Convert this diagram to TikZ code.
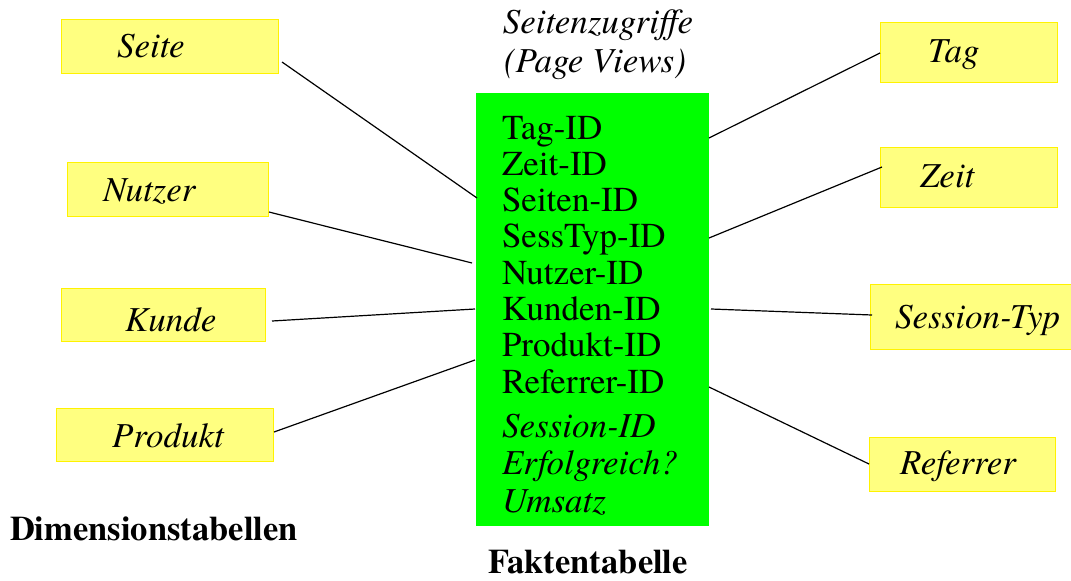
\documentclass[tikz,border=0pt]{standalone}
\usepackage{fontspec}
\setmainfont{TeX Gyre Termes}
\newfontfamily\timesfam{TeX Gyre Termes}
\begin{document}
\begin{tikzpicture}[x=1pt,y=-1pt,
  every node/.style={inner sep=0pt,outer sep=0pt},
  dimbox/.style={draw=yellow,line width=0.9pt,fill=dimyellow,anchor=north west},
  factbox/.style={fill=factgreen,anchor=north west},
  dimlabel/.style={font=\timesfam\fontsize{35}{38}\selectfont\itshape,anchor=base west},
  keytext/.style={font=\timesfam\fontsize{35}{38}\selectfont,anchor=base west},
  measuretext/.style={font=\timesfam\fontsize{35}{38}\selectfont\itshape,anchor=base west},
  titletext/.style={font=\timesfam\fontsize{35}{38}\selectfont\itshape,anchor=base},
  caption/.style={font=\timesfam\fontsize{34.5}{38}\selectfont\bfseries,anchor=base west},
  link/.style={line width=1.2pt,black}]
\definecolor{dimyellow}{RGB}{255,255,128}
\definecolor{factgreen}{RGB}{0,255,0}
\useasboundingbox (0,0) rectangle (1071,581);

% fact table
\node[factbox,minimum width=233pt,minimum height=433pt] (fact) at (476,93) {};
\node[titletext] (title1) at (598,33) {Seitenzugriffe};
\node[titletext] (title2) at (595,72) {(Page Views)};
\foreach \t [count=\i] in {Tag-ID,Zeit-ID,Seiten-ID,SessTyp-ID,Nutzer-ID,Kunden-ID,Produkt-ID,Referrer-ID}
  \node[keytext] (key\i) at (502,{139+36.3*(\i-1)}) {\t};
\node[measuretext] (m1) at (502,437) {Session-ID};
\node[measuretext] (m2) at (502,474.5) {Erfolgreich?};
\node[measuretext] (m3) at (502,512) {Umsatz};

% dimension tables, left
\node[dimbox,minimum width=217pt,minimum height=54pt] (seite) at (61,19) {};
\node[dimlabel] (seiteT) at (117,57) {Seite};
\node[dimbox,minimum width=201pt,minimum height=54pt] (nutzer) at (67,162) {};
\node[dimlabel] (nutzerT) at (103,201) {Nutzer};
\node[dimbox,minimum width=204pt,minimum height=53pt] (kunde) at (61,288) {};
\node[dimlabel] (kundeT) at (125,331) {Kunde};
\node[dimbox,minimum width=217pt,minimum height=53pt] (produkt) at (56,408) {};
\node[dimlabel] (produktT) at (112,447) {Produkt};

% dimension tables, right
\node[dimbox,minimum width=177pt,minimum height=60pt] (tag) at (880,22) {};
\node[dimlabel] (tagT) at (928,62) {Tag};
\node[dimbox,minimum width=177pt,minimum height=60pt] (zeit) at (880,147) {};
\node[dimlabel] (zeitT) at (920,187) {Zeit};
\node[dimbox,minimum width=201pt,minimum height=65pt] (sesstyp) at (870,284) {};
\node[dimlabel] (sesstypT) at (895,328) {Session-Typ};
\node[dimbox,minimum width=186pt,minimum height=54pt] (referrer) at (869,437) {};
\node[dimlabel] (referrerT) at (900,474) {Referrer};

% captions
\node[caption] (dimcap) at (10,540) {Dimensionstabellen};
\node[caption] (factcap) at (488,573) {Faktentabelle};

% connector end points
\coordinate (cSeite) at (282,62);   \coordinate (fSeite) at (477,198);
\coordinate (cNutzer) at (269,212); \coordinate (fNutzer) at (472,263);
\coordinate (cKunde) at (272,321);  \coordinate (fKunde) at (475,309);
\coordinate (cProdukt) at (274,432);\coordinate (fProdukt) at (475,360);
\coordinate (cTag) at (880,53);     \coordinate (fTag) at (709,138);
\coordinate (cZeit) at (882,167);   \coordinate (fZeit) at (709,238);
\coordinate (cSess) at (872,315);   \coordinate (fSess) at (711,309);
\coordinate (cRef) at (869,464);    \coordinate (fRef) at (709,387);

\draw[link] (cSeite) -- (fSeite);
\draw[link] (cNutzer) -- (fNutzer);
\draw[link] (cKunde) -- (fKunde);
\draw[link] (cProdukt) -- (fProdukt);
\draw[link] (fTag) -- (cTag);
\draw[link] (fZeit) -- (cZeit);
\draw[link] (fSess) -- (cSess);
\draw[link] (fRef) -- (cRef);
\end{tikzpicture}
\end{document}
